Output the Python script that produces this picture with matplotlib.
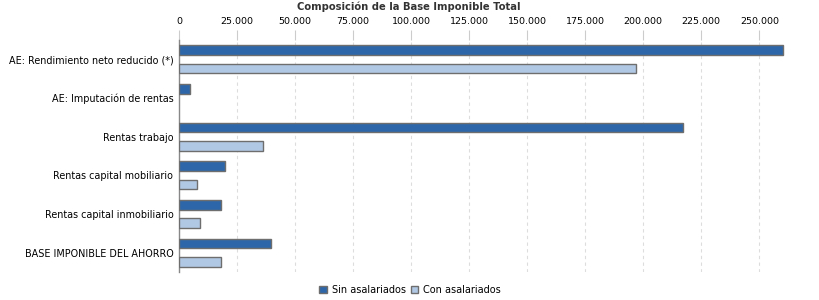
import matplotlib
matplotlib.use("Agg")
import matplotlib.pyplot as plt
import numpy as np

categories = ["AE: Rendimiento neto reducido (*)", "AE: Imputación de rentas", "Rentas trabajo",
              "Rentas capital mobiliario", "Rentas capital inmobiliario", "BASE IMPONIBLE DEL AHORRO"]
sin_asalariados = [260000, 4800, 217000, 20000, 18300, 39800]
con_asalariados = [197000, 0, 36000, 7900, 9000, 18300]
series_names = ["Sin asalariados", "Con asalariados"]
xticks = list(range(0, 250001, 25000))
xtick_labels = [f"{v:,}".replace(",", ".") for v in xticks]

plt.rcParams['font.family'] = ['DejaVu Sans']
fig = plt.figure(figsize=(8.2, 3.0), dpi=100)
ax = fig.add_axes([179/820, 1-272/300, (786-179)/820, (272-40)/300])

y = np.arange(len(categories))
h = 0.25
off = 0.24
c1, c2 = "#2E67A9", "#B0C8E4"
ax.barh(y - off, sin_asalariados, height=h, color=c1, edgecolor="#6E6E6E", linewidth=1.0, label=series_names[0], zorder=3)
ax.barh(y + off, [v if v > 0 else np.nan for v in con_asalariados], height=h, color=c2, edgecolor="#6E6E6E", linewidth=1.0, label=series_names[1], zorder=3)

ax.set_ylim(len(categories) - 0.5, -0.5)
ax.set_xlim(0, 261500)
ax.set_yticks(y)
ax.set_yticklabels(categories, fontsize=6.9)
ax.tick_params(axis='y', length=0, pad=4)
ax.xaxis.tick_top()
ax.set_xticks(xticks)
ax.set_xticklabels(xtick_labels, fontsize=6.8)
ax.tick_params(axis='x', length=7, color="#CCCCCC", pad=3, width=0.8)
for t in ax.xaxis.get_ticklines():
    t.set_linestyle((0, (2, 2)))
ax.grid(axis='x', color="#DDDDDD", linestyle=(0, (3, 3)), linewidth=0.8, zorder=0)
for s in ["top", "right", "bottom"]:
    ax.spines[s].set_visible(False)
ax.spines["left"].set_color("#888888")
ax.spines["left"].set_linewidth(1.0)

fig.text(409/820, 1-7/300, "Composición de la Base Imponible Total", ha="center", va="center", fontsize=7.2, fontweight="bold", color="#333333")
leg = fig.legend(loc="center", bbox_to_anchor=(410/820, 1-290/300), ncol=2, frameon=False, fontsize=7,
                 handlelength=0.8, handleheight=0.8, handletextpad=0.5, columnspacing=0.5)
fig.savefig("out.png", dpi=100)
